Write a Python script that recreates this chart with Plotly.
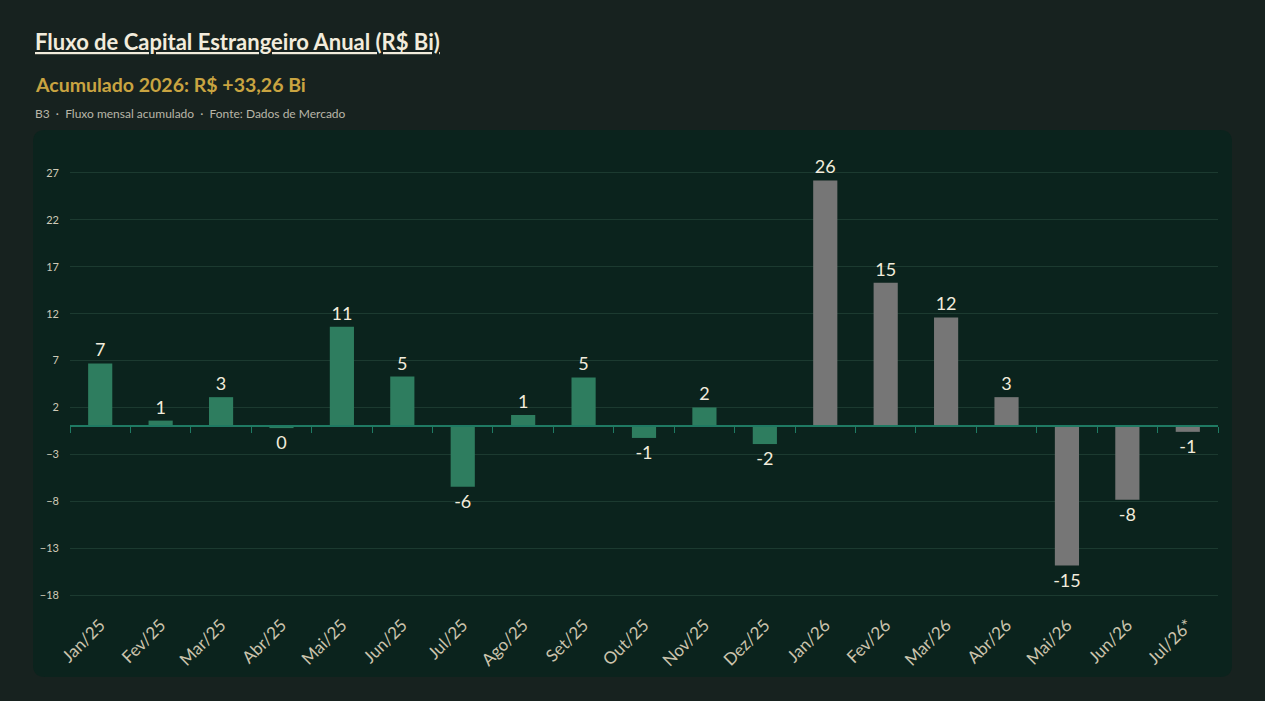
import plotly.graph_objects as go

# data (R$ bi)
months = [
    "Jan/25", "Fev/25", "Mar/25", "Abr/25", "Mai/25", "Jun/25", "Jul/25",
    "Ago/25", "Set/25", "Out/25", "Nov/25", "Dez/25",
    "Jan/26", "Fev/26", "Mar/26", "Abr/26", "Mai/26", "Jun/26", "Jul/26*",
]
flows_2025 = [6.7, 0.6, 3.1, -0.2, 10.6, 5.3, -6.45, 1.2, 5.2, -1.25, 2.0, -1.9]
flows_2026 = [26.2, 15.3, 11.6, 3.1, -14.85, -7.85, -0.6]

values = flows_2025 + flows_2026
colors = ["#2e7d5f"] * len(flows_2025) + ["#767676"] * len(flows_2026)
labels = [str(int(round(v))) for v in values]

FONT = "Lato"
W, H = 1265, 701
L, R, T, B = 70, 47, 150, 90
PW, PH = W - L - R, H - T - B
Y_RANGE = [-19.7, 29.45]


def px(x):
    return (x - L) / PW


def py(y):
    return (T + PH - y) / PH


fig = go.Figure()
fig.add_trace(go.Bar(
    x=months, y=values,
    marker=dict(color=colors, line=dict(width=0)),
    text=labels, textposition="outside", constraintext="none",
    textfont=dict(family=FONT, size=18, color="#f2ecdc"),
    cliponaxis=False, showlegend=False, hoverinfo="x+y",
))
# invisible helper on a numeric overlay axis: the zero line with ticks between months
idx = list(range(len(months)))
fig.add_trace(go.Scatter(
    x=idx, y=values, xaxis="x2", mode="none",
    showlegend=False, hoverinfo="skip",
))

# rounded dark panel behind the plot
x0, x1, y0, y1, r = 33, 1232, 130, 677, 12
rx, ry = r / PW, r / PH
path = (
    f"M {px(x0) + rx},{py(y0)} L {px(x1) - rx},{py(y0)} "
    f"Q {px(x1)},{py(y0)} {px(x1)},{py(y0) - ry} "
    f"L {px(x1)},{py(y1) + ry} Q {px(x1)},{py(y1)} {px(x1) - rx},{py(y1)} "
    f"L {px(x0) + rx},{py(y1)} Q {px(x0)},{py(y1)} {px(x0)},{py(y1) + ry} "
    f"L {px(x0)},{py(y0) - ry} Q {px(x0)},{py(y0)} {px(x0) + rx},{py(y0)} Z"
)
fig.add_shape(type="path", path=path, xref="paper", yref="paper",
              fillcolor="#0b231d", line=dict(width=0), layer="below")

fig.add_annotation(
    text="<b><u>Fluxo de Capital Estrangeiro Anual (R$ Bi)</u></b>",
    x=px(33), y=py(42), xref="paper", yref="paper",
    xanchor="left", yanchor="middle", showarrow=False,
    font=dict(family=FONT, size=22, color="#f2ecdc"),
)
fig.add_annotation(
    text="<b>Acumulado 2026: R$ +33,26 Bi</b>",
    x=px(33), y=py(84), xref="paper", yref="paper",
    xanchor="left", yanchor="middle", showarrow=False,
    font=dict(family=FONT, size=19.5, color="#c9a441"),
)
fig.add_annotation(
    text="B3  ·  Fluxo mensal acumulado  ·  Fonte: Dados de Mercado",
    x=px(33), y=py(113), xref="paper", yref="paper",
    xanchor="left", yanchor="middle", showarrow=False,
    font=dict(family=FONT, size=12, color="#b9b6a8"),
)

zero_pos = (0 - Y_RANGE[0]) / (Y_RANGE[1] - Y_RANGE[0])
bounds = [i - 0.5 for i in range(len(months) + 1)]

fig.update_layout(
    width=W, height=H,
    paper_bgcolor="#17221f", plot_bgcolor="rgba(0,0,0,0)",
    margin=dict(l=L, r=R, t=T, b=B),
    bargap=0.6,
    font=dict(family=FONT),
    xaxis=dict(
        type="category", tickangle=-45, showgrid=False, showline=False,
        zeroline=False, ticks="",
        tickfont=dict(family=FONT, size=17, color="#cbc4ad"),
    ),
    xaxis2=dict(
        type="linear", overlaying="x", anchor="free", position=zero_pos,
        range=[bounds[0], bounds[-1]], tickvals=bounds,
        showticklabels=False, showgrid=False, zeroline=False,
        showline=True, linecolor="#1f7a63", linewidth=1.5,
        ticks="outside", ticklen=6, tickcolor="#1f7a63", tickwidth=1.2,
    ),
    yaxis=dict(
        range=Y_RANGE, tick0=2, dtick=5, showgrid=True,
        gridcolor="#1c3a30", gridwidth=1, zeroline=False, showline=False,
        tickfont=dict(family=FONT, size=11, color="#cfcab8"),
        ticklabelstandoff=10,
    ),
)

fig.write_html(
    "out.html",
    config={"displaylogo": False, "displayModeBar": False},
    post_script="document.body.style.margin='0';",
)
